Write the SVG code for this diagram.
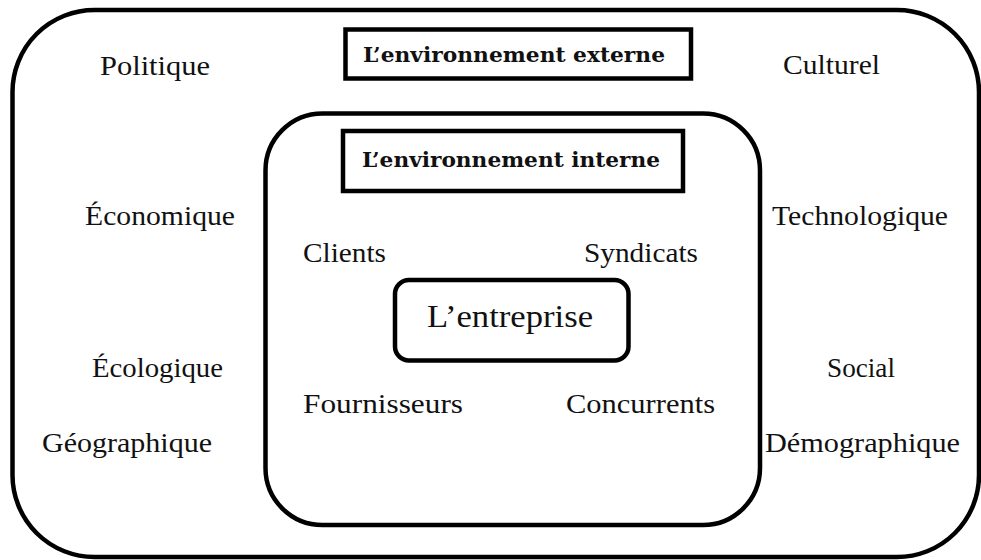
<svg xmlns="http://www.w3.org/2000/svg" width="981" height="560" viewBox="0 0 981 560">
<style>
.box{fill:none;stroke:#000;stroke-width:4.5}
.t{font-family:"Liberation Serif","Times New Roman",serif;font-size:28px;fill:#111}
.b{font-family:"DejaVu Serif","Liberation Serif",serif;font-weight:bold;font-size:20.5px;fill:#111}
.big{font-size:32px}
</style>
<rect x="0" y="0" width="981" height="560" fill="#fff"/>
<g id="external-env">
<rect class="box" x="12.5" y="10" width="966.5" height="547" rx="82" ry="82"/>
<rect class="box" x="345.5" y="29.5" width="345.5" height="49"/>
<text class="b" x="363" y="62" textLength="302" lengthAdjust="spacingAndGlyphs">L’environnement externe</text>
</g>
<g id="factors-external">
<text class="t" x="100" y="75" textLength="110" lengthAdjust="spacingAndGlyphs">Politique</text>
<text class="t" x="783" y="74" textLength="97" lengthAdjust="spacingAndGlyphs">Culturel</text>
<text class="t" x="85" y="225" textLength="150" lengthAdjust="spacingAndGlyphs">Économique</text>
<text class="t" x="772" y="225" textLength="176" lengthAdjust="spacingAndGlyphs">Technologique</text>
<text class="t" x="92" y="377" textLength="131" lengthAdjust="spacingAndGlyphs">Écologique</text>
<text class="t" x="827" y="377" textLength="68" lengthAdjust="spacingAndGlyphs">Social</text>
<text class="t" x="42" y="452" textLength="170" lengthAdjust="spacingAndGlyphs">Géographique</text>
<text class="t" x="765" y="452" textLength="195" lengthAdjust="spacingAndGlyphs">Démographique</text>
</g>
<g id="internal-env">
<rect class="box" x="265.5" y="113.5" width="494.5" height="411.5" rx="57" ry="57"/>
<rect class="box" x="343" y="131" width="340" height="60"/>
<text class="b" x="362" y="167" textLength="298" lengthAdjust="spacingAndGlyphs">L’environnement interne</text>
</g>
<g id="factors-internal">
<text class="t" x="303" y="262" textLength="83" lengthAdjust="spacingAndGlyphs">Clients</text>
<text class="t" x="584" y="262" textLength="114" lengthAdjust="spacingAndGlyphs">Syndicats</text>
<text class="t" x="303" y="413" textLength="160" lengthAdjust="spacingAndGlyphs">Fournisseurs</text>
<text class="t" x="566" y="413" textLength="149" lengthAdjust="spacingAndGlyphs">Concurrents</text>
</g>
<g id="entreprise">
<rect class="box" x="395" y="280" width="233.5" height="80.5" rx="14" ry="14"/>
<text class="t big" x="427" y="327" textLength="166" lengthAdjust="spacingAndGlyphs">L’entreprise</text>
</g>
</svg>
